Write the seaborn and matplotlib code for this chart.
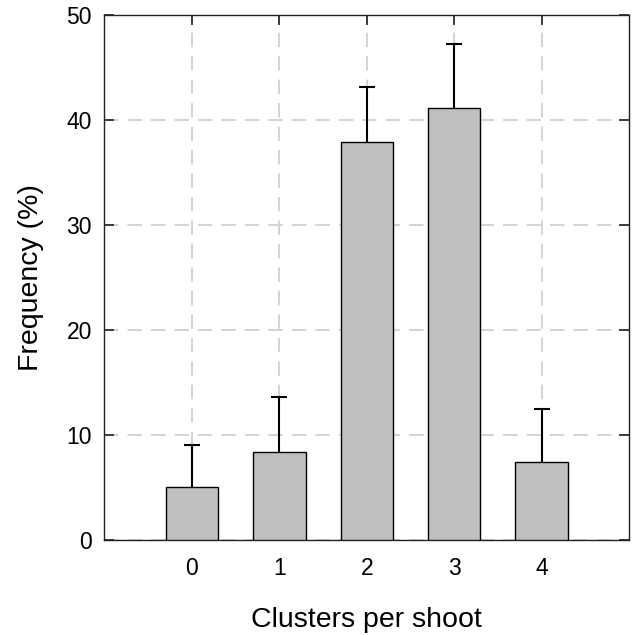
import seaborn as sns
import matplotlib.pyplot as plt
import pandas as pd

clusters = ['0', '1', '2', '3', '4']
frequency = [5.1, 8.4, 37.9, 41.2, 7.4]
err_upper = [4.0, 5.2, 5.3, 6.1, 5.1]

sns.set_style("ticks")
plt.rcParams['font.family'] = ['Liberation Sans', 'DejaVu Sans']

df = pd.DataFrame({'Clusters': clusters, 'Frequency': frequency})

f = plt.figure(figsize=(6.33, 6.35), dpi=100)
ax = f.add_axes([0.165, 0.1496, 0.8287, 0.826])

sns.barplot(data=df, x='Clusters', y='Frequency', order=clusters,
            color='#c0c0c0', edgecolor='black', linewidth=1.0,
            width=0.6, saturation=1, errorbar=None, ax=ax)
for p in ax.patches:
    p.set_zorder(3)

# upper error only, drop the lower caps sitting on the bar tops
_, caps, _ = ax.errorbar(range(len(clusters)), frequency,
                         yerr=[[0] * 5, err_upper], fmt='none',
                         ecolor='black', elinewidth=1.5, capsize=6,
                         capthick=1.5, zorder=2)
caps[0].remove()

ax.set_axisbelow(True)
ax.grid(True, axis='both', color='#d0d0d0', linestyle=(0, (8, 5)),
        linewidth=1.3)

ax.set_xlim(-1, 5)
ax.set_ylim(0, 50)
ax.set_yticks([0, 10, 20, 30, 40, 50])

for s in ax.spines.values():
    s.set_visible(True)
    s.set_linewidth(1.0)
    s.set_color('#222222')

ax.tick_params(axis='both', direction='in', labelsize=16.5, length=7,
               width=1.2, color='#222222', labelcolor='black')
ax.tick_params(axis='y', right=True, pad=9)
ax.tick_params(axis='x', top=True, bottom=False, pad=12)

ax.set_xlabel('Clusters per shoot', fontsize=20.5, labelpad=20, color='black')
ax.set_ylabel('Frequency (%)', fontsize=20.5, labelpad=16, color='black')

f.savefig('out.png', dpi=100)
